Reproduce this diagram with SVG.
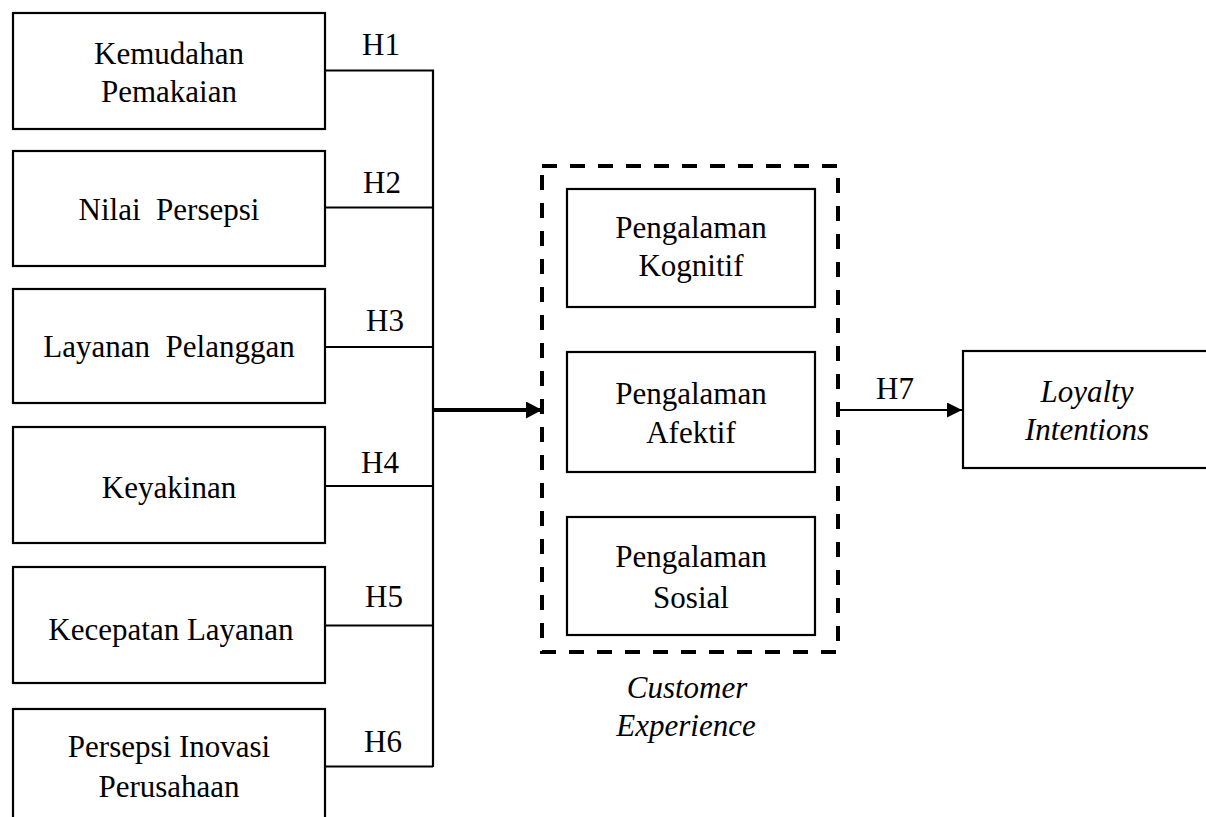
<svg xmlns="http://www.w3.org/2000/svg" width="1206" height="817" viewBox="0 0 1206 817">
<style>
.box{fill:#fff;stroke:#000;stroke-width:2.2}
.t{font-family:"Liberation Serif","Times New Roman",serif;font-size:31px;fill:#000;text-anchor:middle}
.i{font-style:italic}
.ln{fill:none;stroke:#000;stroke-width:2.2}
</style>
<defs>
<marker id="ah" markerWidth="16" markerHeight="17" refX="16" refY="8.5" orient="auto" markerUnits="userSpaceOnUse">
<path d="M0,0 L16,8.5 L0,17 Z" fill="#000"/>
</marker>
<marker id="ah2" markerWidth="15" markerHeight="15" refX="15" refY="7.5" orient="auto" markerUnits="userSpaceOnUse">
<path d="M0,0 L15,7.5 L0,15 Z" fill="#000"/>
</marker>
</defs>
<rect width="1206" height="817" fill="#fff"/>

<g id="connectors">
<path class="ln" d="M325,70.5 H433 V767 M325,207.5 H433 M325,347 H433 M325,486 H433 M325,625.5 H433 M325,766.5 H433"/>
<path fill="none" stroke="#000" stroke-width="4" d="M433,410 H542" marker-end="url(#ah)"/>
<path fill="none" stroke="#000" stroke-width="2.2" d="M838,410 H962" marker-end="url(#ah2)"/>
<text class="t" x="381" y="55">H1</text>
<text class="t" x="382" y="193">H2</text>
<text class="t" x="385" y="331">H3</text>
<text class="t" x="380" y="473">H4</text>
<text class="t" x="384" y="607">H5</text>
<text class="t" x="383" y="752">H6</text>
<text class="t" x="895" y="399">H7</text>
</g>

<g id="n1"><rect class="box" x="13" y="13" width="312" height="116"/>
<text class="t" x="169" y="64">Kemudahan</text><text class="t" x="169" y="102">Pemakaian</text></g>
<g id="n2"><rect class="box" x="13" y="151" width="312" height="115"/>
<text class="t" x="169" y="220" xml:space="preserve">Nilai  Persepsi</text></g>
<g id="n3"><rect class="box" x="13" y="289" width="312" height="114"/>
<text class="t" x="169" y="357" xml:space="preserve">Layanan  Pelanggan</text></g>
<g id="n4"><rect class="box" x="13" y="427" width="312" height="116"/>
<text class="t" x="169" y="498">Keyakinan</text></g>
<g id="n5"><rect class="box" x="13" y="567" width="312" height="116"/>
<text class="t" x="171" y="640">Kecepatan Layanan</text></g>
<g id="n6"><rect class="box" x="13" y="709" width="312" height="130"/>
<text class="t" x="169" y="757">Persepsi Inovasi</text><text class="t" x="169" y="797">Perusahaan</text></g>

<g id="customer-experience">
<rect x="542" y="166" width="296" height="486" fill="none" stroke="#000" stroke-width="4" stroke-dasharray="15,13"/>
<text class="t i" x="687" y="698">Customer</text>
<text class="t i" x="686" y="736">Experience</text>
</g>
<g id="kognitif"><rect class="box" x="567" y="189" width="248" height="118"/>
<text class="t" x="691" y="238">Pengalaman</text><text class="t" x="691" y="276">Kognitif</text></g>
<g id="afektif"><rect class="box" x="567" y="352" width="248" height="120"/>
<text class="t" x="691" y="404">Pengalaman</text><text class="t" x="691" y="443">Afektif</text></g>
<g id="sosial"><rect class="box" x="567" y="517" width="248" height="118"/>
<text class="t" x="691" y="567">Pengalaman</text><text class="t" x="691" y="608">Sosial</text></g>

<g id="loyalty"><rect class="box" x="963" y="351" width="250" height="117"/>
<text class="t i" x="1087" y="402">Loyalty</text><text class="t i" x="1087" y="440">Intentions</text></g>
</svg>
